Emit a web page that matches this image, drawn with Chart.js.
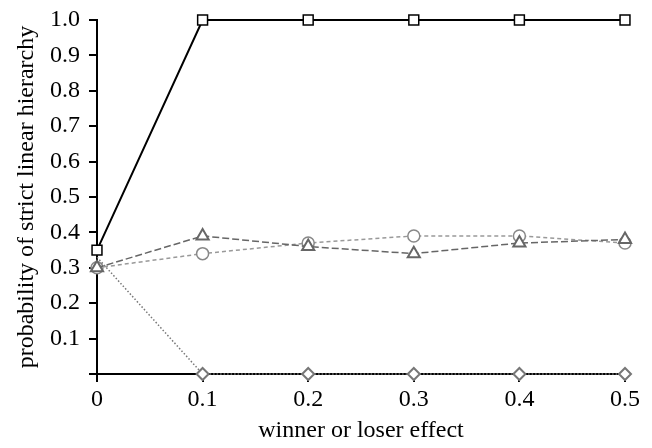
<!DOCTYPE html>
<html>
<head>
<meta charset="utf-8">
<script src="https://cdn.jsdelivr.net/npm/chart.js@4"></script>
<style>
  html, body { margin: 0; padding: 0; background: #fff; }
  #wrap { width: 652px; height: 448px; }
</style>
</head>
<body>
<div id="wrap"><canvas id="chart"></canvas></div>
<script>
const effects = [0, 0.1, 0.2, 0.3, 0.4, 0.5];
const squares = [0.35, 1.0, 1.0, 1.0, 1.0, 1.0];
const triangles = [0.30, 0.39, 0.36, 0.34, 0.37, 0.38];
const circles = [0.30, 0.34, 0.37, 0.39, 0.39, 0.37];
const diamonds = [0.33, 0, 0, 0, 0, 0];

function pts(vals) {
    return vals.map((v, i) => ({ x: effects[i], y: v }));
}

const serif = { family: "'Liberation Serif', 'DejaVu Serif', serif", size: 24 };

const ctx = document.getElementById('chart').getContext('2d');
const myChart = new Chart(ctx, {
    type: 'line',
    data: {
        datasets: [{
            label: 'diamonds',
            data: pts(diamonds),
            borderColor: '#777',
            borderWidth: 1.5,
            borderDash: [1.5, 2],
            pointStyle: 'rectRot',
            pointRadius: [0, 6, 6, 6, 6, 6],
            pointBorderWidth: 2,
            pointBorderColor: '#777',
            pointBackgroundColor: '#fff'
        }, {
            label: 'triangles',
            data: pts(triangles),
            borderColor: '#666',
            borderWidth: 1.5,
            borderDash: [7, 3],
            pointStyle: 'triangle',
            pointRadius: 7,
            pointBorderWidth: 2,
            pointBorderColor: '#666',
            pointBackgroundColor: '#fff'
        }, {
            label: 'circles',
            data: pts(circles),
            borderColor: '#999',
            borderWidth: 1.5,
            borderDash: [4, 3],
            pointStyle: 'circle',
            pointRadius: 6,
            pointBorderWidth: 1.5,
            pointBorderColor: '#888',
            pointBackgroundColor: '#fff'
        }, {
            label: 'squares',
            data: pts(squares),
            borderColor: '#000',
            borderWidth: 2,
            pointStyle: 'rect',
            pointRadius: 7,
            pointBorderWidth: 1.5,
            pointBorderColor: '#000',
            pointBackgroundColor: '#fff'
        }]
    },
    options: {
        responsive: true,
        maintainAspectRatio: false,
        animation: false,
        clip: false,
        layout: { padding: { top: 20, right: 27, left: 0, bottom: 0 } },
        plugins: { legend: { display: false }, tooltip: { enabled: false } },
        scales: {
            x: {
                type: 'linear',
                min: 0,
                max: 0.5,
                afterBuildTicks: axis => { axis.ticks = effects.map(v => ({ value: v })); },
                afterFit: axis => { axis.height = 74; axis.paddingLeft = 0; axis.paddingRight = 0; },
                border: { color: '#000', width: 2 },
                grid: { drawOnChartArea: false, color: '#000', lineWidth: 2, tickLength: 8 },
                ticks: {
                    color: '#000',
                    font: serif,
                    padding: 3,
                    maxRotation: 0,
                    callback: v => v === 0 ? '0' : v.toFixed(1)
                },
                title: { display: true, text: 'winner or loser effect', color: '#000', font: serif, padding: { top: 4, bottom: 3 } }
            },
            y: {
                min: 0,
                max: 1,
                afterBuildTicks: axis => {
                    axis.ticks = [0, 0.1, 0.2, 0.3, 0.4, 0.5, 0.6, 0.7, 0.8, 0.9, 1.0].map(v => ({ value: v }));
                },
                afterFit: axis => { axis.width = 97; axis.paddingTop = 0; axis.paddingBottom = 0; },
                border: { color: '#000', width: 2 },
                grid: { drawOnChartArea: false, color: '#000', lineWidth: 2, tickLength: 8 },
                ticks: {
                    color: '#000',
                    font: serif,
                    padding: 9,
                    callback: v => v === 0 ? '' : v.toFixed(1)
                },
                title: { display: true, text: 'probability of strict linear hierarchy', color: '#000', font: serif, padding: { top: 12, bottom: 4 } }
            }
        }
    }
});
</script>
</body>
</html>
